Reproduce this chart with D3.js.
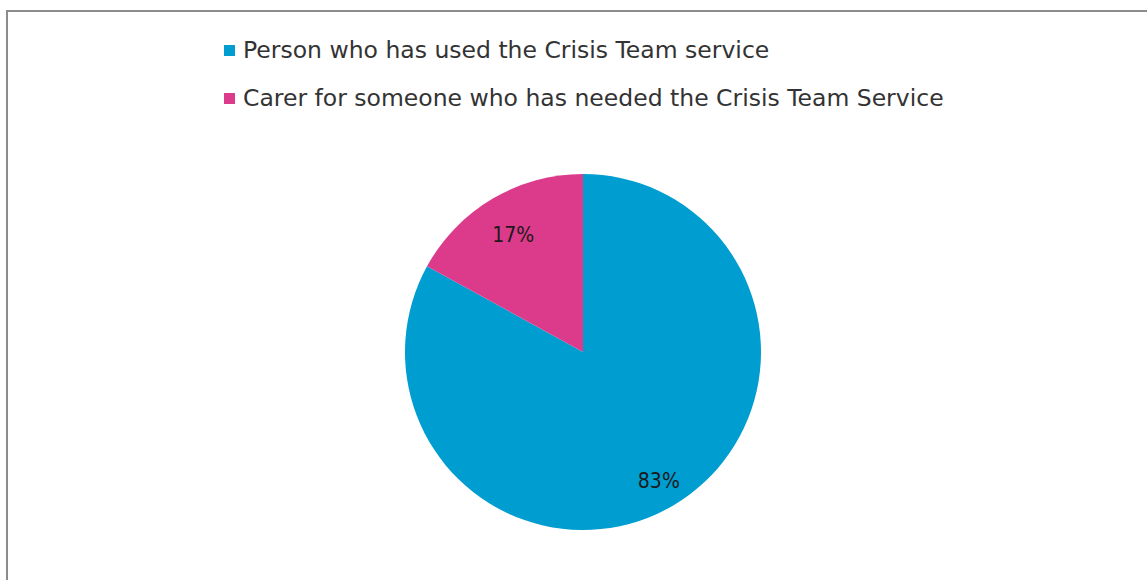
<!DOCTYPE html>
<html><head><meta charset="utf-8">
<script src="https://cdn.jsdelivr.net/npm/d3@7"></script>
<style>html,body{margin:0;padding:0;background:#fff;}svg{display:block;}</style>
</head><body>
<svg id="chart" width="1147" height="580"></svg>
<script>
const categories = ["Person who has used the Crisis Team service", "Carer for someone who has needed the Crisis Team Service"];
const values = [83, 17];
const labels = ["83%", "17%"];
const colors = ["#009dd0", "#dc3b8c"];

const svg = d3.select("#chart");
const W = 1147, H = 580;
svg.append("rect").attr("x", 7).attr("y", 11).attr("width", W).attr("height", H)
  .attr("fill", "#fff").attr("stroke", "#8c8c8c").attr("stroke-width", 2);

const font = "'DejaVu Sans', Verdana, sans-serif";
const cx = 583, cy = 352, R = 178;
const pie = d3.pie().sort(null).value(d => d)(values);
const arc = d3.arc().innerRadius(0).outerRadius(R);
const g = svg.append("g").attr("transform", `translate(${cx},${cy})`);
g.selectAll("path").data(pie).join("path").attr("d", arc).attr("fill", (d, i) => colors[i]);
const labelR = [149, 137];
g.selectAll("text").data(pie).join("text")
  .attr("transform", (d, i) => `translate(${d3.arc().innerRadius(labelR[i]).outerRadius(labelR[i]).centroid(d)})`)
  .attr("text-anchor", "middle").attr("dy", "0.36em")
  .attr("font-family", font).attr("font-size", 22).attr("fill", "#1a1a1a")
  .attr("textLength", 42).attr("lengthAdjust", "spacingAndGlyphs")
  .text((d, i) => labels[i]);

const leg = svg.append("g").attr("transform", "translate(224,45)");
const items = leg.selectAll("g").data(categories).join("g").attr("transform", (d, i) => `translate(0,${i * 48})`);
items.append("rect").attr("width", 11).attr("height", 11).attr("fill", (d, i) => colors[i]);
items.append("text").attr("x", 19).attr("y", 13)
  .attr("font-family", font).attr("font-size", 23.5).attr("fill", "#333")
  .text(d => d);
</script>
</body></html>
